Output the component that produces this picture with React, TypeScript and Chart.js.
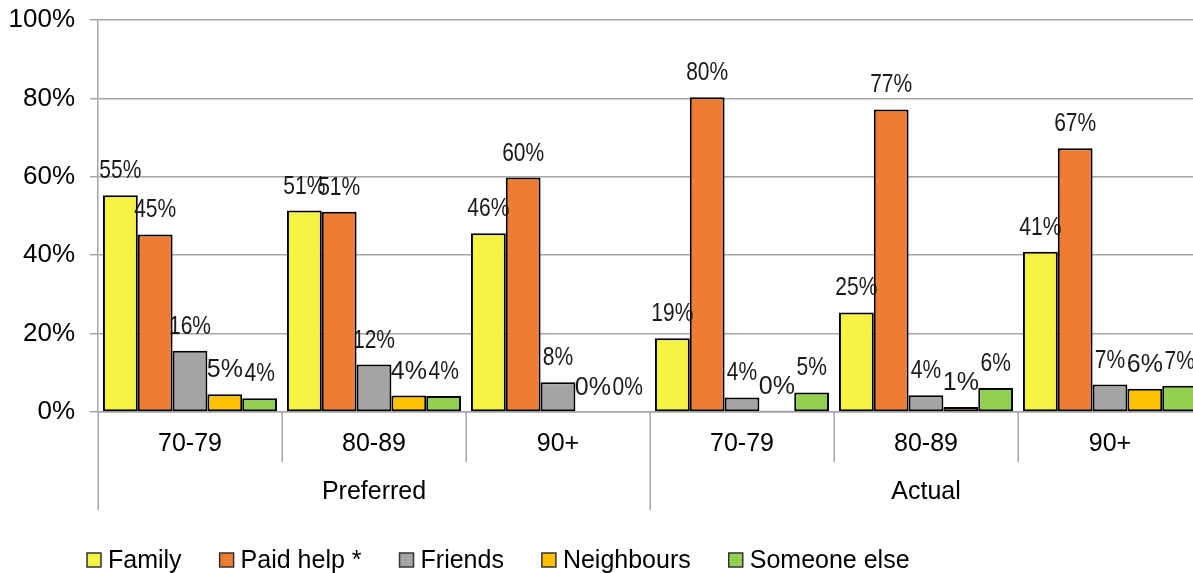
import React, { useEffect, useRef } from "react";
import { Chart, registerables } from "chart.js";

Chart.register(...registerables);

const categories = ["70-79", "80-89", "90+", "70-79", "80-89", "90+"];
const groupLabels = ["Preferred", "Actual"];
const groupSpans = [3, 3];
const yTicks = [0, 20, 40, 60, 80, 100];

const seriesNames = ["Family", "Paid help *", "Friends", "Neighbours", "Someone else"];
const family = [55.3, 51.4, 45.6, 18.8, 25.4, 40.9];
const paidHelp = [45.3, 51.1, 59.8, 80.3, 77.2, 67.3];
const friends = [15.6, 12.1, 7.6, 3.7, 4.3, 7.0];
const neighbours = [4.5, 4.2, 0, 0.3, 1.3, 5.9];
const someoneElse = [3.5, 4.1, 0, 5.0, 6.1, 6.7];

const seriesColors = ["#F4F242", "#ED7D31", "#A5A5A5", "#FFC000", "#92D050"];

const SANS = '"Liberation Sans", Arial, sans-serif';
const GRID = "#A6A6A6";

const CANVAS_W = 1210;
const CANVAS_H = 573;

const extrasPlugin = {
  id: "extras",
  afterDatasetsDraw(chart: any) {
    const ctx = chart.ctx;
    chart.data.datasets.forEach((ds: any, di: number) => {
      const meta = chart.getDatasetMeta(di);
      meta.data.forEach((el: any, i: number) => {
        const v = ds.data[i];
        const txt = Math.round(v) + "%";
        ctx.save();
        ctx.fillStyle = "#1a1a1a";
        ctx.textAlign = "center";
        ctx.textBaseline = "alphabetic";
        ctx.translate(el.x, el.y - 17);
        if (di === 3) {
          ctx.font = `25px ${SANS}`;
        } else {
          ctx.font = `25px ${SANS}`;
          ctx.scale(0.84, 1);
        }
        ctx.fillText(txt, 0, 0);
        ctx.restore();
      });
    });
  },
  afterDraw(chart: any) {
    const ctx = chart.ctx;
    const area = chart.chartArea;
    const n = categories.length;
    const cw = (area.right - area.left) / n;
    ctx.save();
    ctx.strokeStyle = GRID;
    ctx.lineWidth = 1.5;
    const groupBounds = new Set<number>();
    let acc = 0;
    groupBounds.add(0);
    groupSpans.forEach((s) => {
      acc += s;
      groupBounds.add(acc);
    });
    for (let i = 0; i <= n; i++) {
      const x = Math.round(area.left + i * cw) + 0.25;
      const yEnd = groupBounds.has(i) ? 510 : 462;
      ctx.beginPath();
      ctx.moveTo(x, area.bottom);
      ctx.lineTo(x, yEnd);
      ctx.stroke();
    }
    ctx.restore();
    ctx.save();
    ctx.fillStyle = "#000";
    ctx.font = `25px ${SANS}`;
    ctx.textAlign = "center";
    ctx.textBaseline = "middle";
    let start = 0;
    groupLabels.forEach((g, gi) => {
      const s = groupSpans[gi];
      const cx = area.left + (start + s / 2) * cw;
      ctx.fillText(g, cx, 492);
      start += s;
    });
    ctx.restore();
    ctx.save();
    ctx.font = `25px ${SANS}`;
    ctx.textBaseline = "middle";
    ctx.textAlign = "left";
    let x = 87;
    const yMid = 560;
    seriesNames.forEach((name, i) => {
      ctx.fillStyle = seriesColors[i];
      ctx.fillRect(x, yMid - 7, 14, 14);
      ctx.strokeStyle = "#333";
      ctx.lineWidth = 1.5;
      ctx.strokeRect(x, yMid - 7, 14, 14);
      ctx.fillStyle = "#000";
      ctx.fillText(name, x + 21, yMid + 1);
      const w = ctx.measureText(name).width;
      x = x + 21 + w + 38;
    });
    ctx.restore();
  },
};

export default function App() {
  const ref = useRef<HTMLCanvasElement | null>(null);
  useEffect(() => {
    if (!ref.current) return;
    const values = [family, paidHelp, friends, neighbours, someoneElse];
    const chart = new Chart(ref.current, {
      type: "bar",
      data: {
        labels: categories,
        datasets: seriesNames.map((name, i) => ({
          label: name,
          data: values[i],
          backgroundColor: seriesColors[i],
          borderColor: "#000",
          borderWidth: 2,
          borderSkipped: false,
          categoryPercentage: 0.946,
          barPercentage: 1,
        })),
      },
      options: {
        responsive: false,
        animation: false,
        devicePixelRatio: 1,
        layout: { padding: { top: 20, right: 8, left: 0, bottom: 0 } },
        plugins: {
          legend: { display: false },
          tooltip: { enabled: false },
        },
        scales: {
          x: {
            grid: { display: false, drawTicks: false },
            border: { display: true, color: GRID, width: 1.5 },
            ticks: {
              color: "#000",
              font: { size: 25, family: SANS },
              padding: 17,
              maxRotation: 0,
              autoSkip: false,
            },
            afterFit: (scale: any) => {
              scale.height = CANVAS_H - 412;
              scale.paddingLeft = 0;
              scale.paddingRight = 0;
            },
          },
          y: {
            min: 0,
            max: 100,
            afterBuildTicks: (scale: any) => {
              scale.ticks = yTicks.map((v) => ({ value: v }));
            },
            grid: { color: GRID, lineWidth: 1.5, tickLength: 8, tickColor: GRID },
            border: { display: true, color: GRID, width: 1.5 },
            ticks: {
              color: "#000",
              font: { size: 26, family: SANS },
              padding: 15,
              callback: (v: any) => v + "%",
            },
            afterFit: (scale: any) => {
              scale.width = 98;
              scale.paddingTop = 0;
              scale.paddingBottom = 0;
            },
          },
        },
      },
      plugins: [extrasPlugin],
    });
    return () => chart.destroy();
  }, []);
  return (
    <div
      style={{
        position: "absolute",
        left: 0,
        top: 0,
        width: 1193,
        height: CANVAS_H,
        overflow: "hidden",
        background: "#fff",
      }}
    >
      <canvas
        ref={ref}
        width={CANVAS_W}
        height={CANVAS_H}
        style={{ width: CANVAS_W, height: CANVAS_H, display: "block" }}
      />
    </div>
  );
}
